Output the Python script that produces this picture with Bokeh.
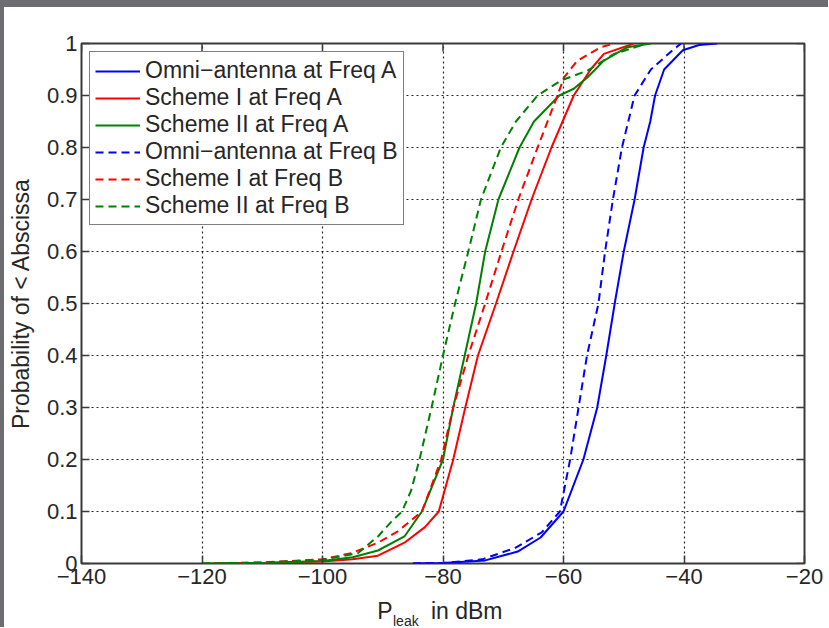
import math
from bokeh.plotting import figure
from bokeh.models import FixedTicker, Range1d, Legend, LegendItem, Spacer
from bokeh.layouts import column, row
from bokeh.core.properties import value
from bokeh.embed import file_html
from bokeh.resources import INLINE

# ---- data ----
x_ticks = [-140, -120, -100, -80, -60, -40, -20]
x_tick_labels = ["−140", "−120", "−100", "−80", "−60", "−40", "−20"]
y_ticks = [0, 0.1, 0.2, 0.3, 0.4, 0.5, 0.6, 0.7, 0.8, 0.9, 1]
y_tick_labels = ["0", "0.1", "0.2", "0.3", "0.4", "0.5", "0.6", "0.7", "0.8", "0.9", "1"]

omni_a_x = [-85, -80, -73, -67.6, -63.8, -60, -56.7, -54.4, -52.9, -51.5, -50, -48.2, -46.7, -45.6, -44.8, -43.3, -40.2, -37.5, -34.5]
omni_a_y = [0, 0.001, 0.006, 0.023, 0.05, 0.1, 0.2, 0.3, 0.4, 0.5, 0.6, 0.7, 0.8, 0.85, 0.9, 0.95, 0.987, 0.997, 1.0]

s1_a_x = [-118, -110, -100, -95, -90.8, -86.4, -83, -80.7, -78.3, -76.3, -74.2, -71.2, -68.3, -65.3, -62, -58.3, -55.5, -53.3, -48.3]
s1_a_y = [0, 0.001, 0.004, 0.008, 0.015, 0.04, 0.07, 0.1, 0.2, 0.3, 0.4, 0.5, 0.6, 0.7, 0.8, 0.9, 0.95, 0.98, 1.0]

s2_a_x = [-120, -110, -100, -95, -90.8, -86.4, -83.5, -80, -78.3, -76.4, -74.5, -73, -70.8, -67.3, -64.9, -60.7, -58.3, -56, -53.3, -49.4, -45.5]
s2_a_y = [0, 0.001, 0.005, 0.012, 0.025, 0.052, 0.1, 0.2, 0.3, 0.4, 0.5, 0.6, 0.7, 0.8, 0.85, 0.9, 0.913, 0.935, 0.967, 0.993, 1.0]

omni_b_x = [-85, -80, -73.5, -68, -63.6, -60.6, -58.9, -57.5, -56.1, -54.2, -53.1, -51.8, -50.3, -48.2, -45.5, -41.9, -40.5]
omni_b_y = [0, 0.001, 0.008, 0.03, 0.06, 0.1, 0.2, 0.3, 0.4, 0.5, 0.6, 0.7, 0.8, 0.9, 0.95, 0.987, 1.0]

s1_b_x = [-118, -110, -100, -95.2, -90.8, -87.5, -83.5, -80.3, -78.3, -75.8, -73, -70.3, -67.5, -64.3, -61, -59.9, -57.7, -53.8, -51.6]
s1_b_y = [0, 0.002, 0.008, 0.02, 0.04, 0.062, 0.1, 0.2, 0.3, 0.4, 0.5, 0.6, 0.7, 0.8, 0.9, 0.935, 0.967, 0.993, 1.0]

s2_b_x = [-120, -110, -100, -94.1, -90.8, -88.6, -86.8, -85.3, -83.9, -81.9, -80, -78, -75.8, -73.7, -70.4, -67.9, -64.3, -60.4, -56, -51.6, -46.1]
s2_b_y = [0, 0.002, 0.007, 0.02, 0.052, 0.08, 0.1, 0.14, 0.2, 0.3, 0.4, 0.5, 0.6, 0.7, 0.8, 0.85, 0.9, 0.929, 0.948, 0.98, 1.0]

series_names = ["Omni−antenna at Freq A", "Scheme I at Freq A", "Scheme II at Freq A",
                "Omni−antenna at Freq B", "Scheme I at Freq B", "Scheme II at Freq B"]
series_x = [omni_a_x, s1_a_x, s2_a_x, omni_b_x, s1_b_x, s2_b_x]
series_y = [omni_a_y, s1_a_y, s2_a_y, omni_b_y, s1_b_y, s2_b_y]

x_label_main = "P"
x_label_sub = "leak"
x_label_rest = "in dBm"
y_label = "Probability of < Abscissa"

# ---- styles ----
colors = ["#0000ff", "#ff0000", "#008000", "#0000ff", "#ff0000", "#008000"]
dashes = ["solid", "solid", "solid", "8 5", "8 5", "8 5"]
FONT = "Liberation Sans"
TXT = "#262626"
EDGE = "#3a3a3a"
GRAY = "#6d6c71"

W = 824
BL, BR = 76, 24

p = figure(width=W, height=588, x_range=Range1d(x_ticks[0], x_ticks[-1]),
           y_range=Range1d(y_ticks[0], y_ticks[-1]),
           output_backend="svg", toolbar_location=None,
           min_border_left=BL, min_border_right=BR, min_border_top=36, min_border_bottom=32)
p.background_fill_color = "white"
p.border_fill_color = "white"
p.outline_line_color = EDGE
p.outline_line_width = 2

for ax in (p.xaxis[0], p.yaxis[0]):
    ax.axis_line_color = None
    ax.major_tick_in = 8
    ax.major_tick_out = 0
    ax.minor_tick_in = 0
    ax.minor_tick_out = 0
    ax.major_tick_line_color = EDGE
    ax.major_tick_line_width = 1.5
    ax.major_label_text_font = FONT
    ax.major_label_text_font_size = "22px"
    ax.major_label_text_color = TXT

p.xaxis[0].ticker = FixedTicker(ticks=x_ticks)
p.xaxis[0].major_label_overrides = {t: l for t, l in zip(x_ticks, x_tick_labels)}
p.xaxis[0].major_label_standoff = 5
p.yaxis[0].ticker = FixedTicker(ticks=y_ticks)
p.yaxis[0].major_label_overrides = {t: l for t, l in zip(y_ticks, y_tick_labels)}
p.yaxis[0].major_label_standoff = 4
p.yaxis[0].axis_label = y_label
p.yaxis[0].axis_label_text_font = FONT
p.yaxis[0].axis_label_text_font_size = "23px"
p.yaxis[0].axis_label_text_font_style = "normal"
p.yaxis[0].axis_label_text_color = TXT
p.yaxis[0].axis_label_standoff = 10

p.xgrid.ticker = FixedTicker(ticks=x_ticks)
p.ygrid.ticker = FixedTicker(ticks=y_ticks)
for g in (p.xgrid[0], p.ygrid[0]):
    g.grid_line_color = "black"
    g.grid_line_alpha = 0.85
    g.grid_line_width = 1.2
    g.grid_line_dash = "2 3"

# inward ticks on the top and right edges (half of each dash is clipped by the frame)
p.scatter(x=x_ticks, y=[y_ticks[-1]] * len(x_ticks), marker="dash", size=16,
          angle=math.pi / 2, line_color=EDGE, line_width=1.5)
p.scatter(x=[x_ticks[-1]] * len(y_ticks), y=y_ticks, marker="dash", size=16,
          angle=0, line_color=EDGE, line_width=1.5)

items = []
for name, xs, ys, c, d in zip(series_names, series_x, series_y, colors, dashes):
    r = p.line(xs, ys, line_color=c, line_width=2, line_dash=d)
    items.append(LegendItem(label=name, renderers=[r]))

legend = Legend(items=items, location="top_left")
legend.margin = 8
legend.padding = 5
legend.spacing = 0
legend.glyph_width = 45
legend.label_standoff = 5
legend.label_text_font = FONT
legend.label_text_font_size = "23px"
legend.label_text_color = TXT
legend.border_line_color = "black"
legend.border_line_width = 1.5
legend.background_fill_color = "white"
legend.background_fill_alpha = 1
p.add_layout(legend)

# x-axis label strip (P with subscript "leak")
H2 = 32
p2 = figure(width=W, height=H2, x_range=p.x_range, y_range=Range1d(0, H2),
            x_axis_type=None, y_axis_type=None, output_backend="svg", toolbar_location=None,
            min_border_left=BL, min_border_right=BR, min_border_top=0, min_border_bottom=0)
p2.outline_line_color = None
p2.background_fill_color = "white"
p2.border_fill_color = "white"
p2.grid.visible = False
p2.text(x=[-90.9], y=[17], text=[x_label_main], text_font=value(FONT), text_font_size="23px",
        text_color=TXT, text_baseline="alphabetic", text_align="left")
p2.text(x=[-88.3], y=[7], text=[x_label_sub], text_font=value(FONT), text_font_size="14px",
        text_color=TXT, text_baseline="alphabetic", text_align="left")
p2.text(x=[-82.0], y=[17], text=[x_label_rest], text_font=value(FONT), text_font_size="23px",
        text_color=TXT, text_baseline="alphabetic", text_align="left")

top = Spacer(width=W + 4, height=7, styles={"background-color": GRAY})
left = Spacer(width=4, height=588 + H2, styles={"background-color": GRAY})
layout = column(top, row(left, column(p, p2)))

open("out.html", "w").write(file_html(layout, INLINE))
